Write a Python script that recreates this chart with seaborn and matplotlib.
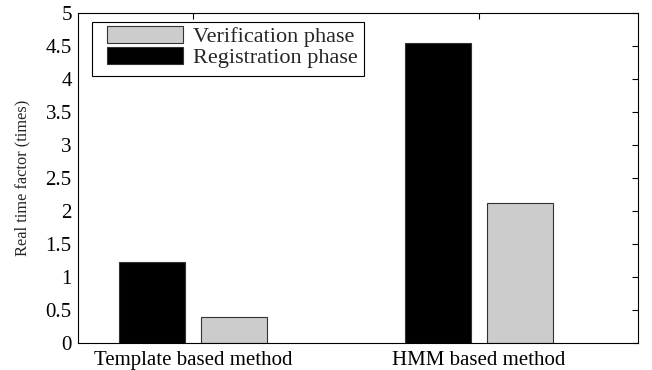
import matplotlib
matplotlib.use("Agg")
import matplotlib.pyplot as plt
import matplotlib.patches as mpatches
import seaborn as sns
import pandas as pd

categories = ["Template based method", "HMM based method"]
registration = [1.22, 4.55]
verification = [0.40, 2.12]
series_names = ["Registration phase", "Verification phase"]
yticks = [0, 0.5, 1, 1.5, 2, 2.5, 3, 3.5, 4, 4.5, 5]
ytick_labels = ["0", "0.5", "1", "1.5", "2", "2.5", "3", "3.5", "4", "4.5", "5"]

df = pd.DataFrame({
    "method": categories * 2,
    "phase": [series_names[0]] * 2 + [series_names[1]] * 2,
    "value": registration + verification,
})

sns.set_style("white")
plt.rcParams["font.family"] = ["Liberation Serif", "DejaVu Serif"]

fig = plt.figure(figsize=(6.52, 3.70), dpi=100)
ax = fig.add_axes([0.1196, 0.073, 0.8589, 0.892])

sns.barplot(data=df, x="method", y="value", hue="phase", order=categories,
            hue_order=series_names, palette=["#000000", "#cccccc"],
            width=0.57, gap=0.19, edgecolor="#333333", linewidth=0.8,
            ax=ax, legend=True)

ax.set_xlim(-0.402, 1.556)
ax.set_ylim(0, 5)
ax.set_yticks(yticks)
ax.set_yticklabels(ytick_labels, fontsize=15)
ax.set_xticks([0, 1])
ax.set_xticklabels(categories, fontsize=15)
ax.set_xlabel("")
ax.set_ylabel("Real time factor (times)", fontsize=11.8, labelpad=11)
ax.tick_params(direction="in", length=4, width=0.8, top=True, right=True,
               colors="black")
ax.tick_params(axis="y", pad=4.5)
ax.tick_params(axis="x", pad=5.5)
for s in ax.spines.values():
    s.set_visible(True)
    s.set_color("black")
    s.set_linewidth(0.8)

handles, labels = ax.get_legend_handles_labels()
leg = ax.legend(handles[::-1], labels[::-1], loc="upper left",
                bbox_to_anchor=(0.052, 0.959), fontsize=16, frameon=False,
                handlelength=3.4, handleheight=0.75, handletextpad=0.45,
                borderpad=0, labelspacing=0.0, borderaxespad=0)

fig.canvas.draw()
renderer = fig.canvas.get_renderer()
bb = leg.get_window_extent(renderer)
x0, y0 = bb.x0 - 15, bb.y0 - 8
w, h = bb.width + 22, bb.height + 12
frame = mpatches.Rectangle((x0, y0), w, h, transform=None, fill=False,
                           edgecolor="black", linewidth=0.8, zorder=5)
fig.patches.append(frame)
frame.set_figure(fig)

fig.savefig("out.png", dpi=100)
